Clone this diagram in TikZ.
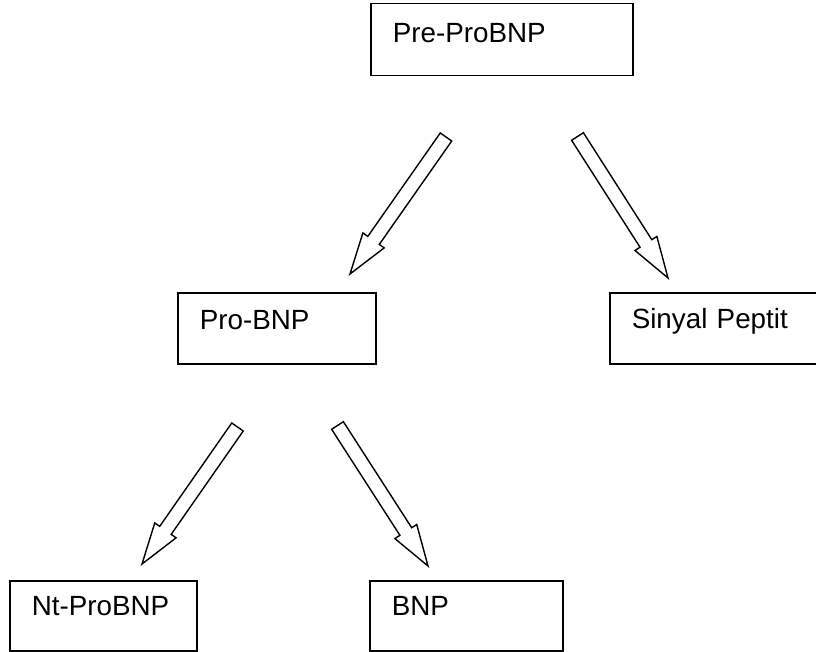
\documentclass[tikz,border=0pt]{standalone}
\usepackage{fontspec}
\setmainfont{Liberation Sans}
\usetikzlibrary{calc}
\tikzset{
  box/.style={draw, line width=1.5pt, anchor=north west, inner xsep=22pt, inner ysep=0pt,
    align=left, font=\fontsize{27.8}{30}\selectfont},
  blockarrow/.style={draw, line width=1.4pt, line join=miter, fill=white}
}
\newcommand{\blockarr}[2]{%
  \coordinate (#1n) at ($(#2)!41pt!(#1)$);
  \draw[blockarrow] ($(#1)!7pt!90:(#2)$) -- ($(#1n)!7pt!90:(#2)$) -- ($(#1n)!13pt!90:(#2)$)
    -- (#2) -- ($(#1n)!13pt!-90:(#2)$) -- ($(#1n)!7pt!-90:(#2)$) -- ($(#1)!7pt!-90:(#2)$) -- cycle;
}
\begin{document}
\begin{tikzpicture}[x=1pt,y=-1pt]
\clip (0,0) rectangle (816,652);
\fill[white] (0,0) rectangle (816,652);
\node[box, text width=218pt, text height=39pt, text depth=33pt] (pre) at (370,3) {Pre-ProBNP};
\node[box, text width=154pt, text height=37pt, text depth=34pt] (pro) at (177,292) {Pro-BNP};
\node[box, text width=176pt, text height=36pt, text depth=35pt] (sig) at (609,292) {Sinyal Peptit};
\node[box, text width=143pt, text height=35pt, text depth=35pt] (nt) at (9,580) {Nt-ProBNP};
\node[box, text width=149pt, text height=35pt, text depth=35pt] (bnp) at (369,580) {BNP};
\coordinate (a1s) at (446,137); \coordinate (a1e) at (350,274);
\coordinate (a2s) at (577.5,136.5); \coordinate (a2e) at (668,278);
\coordinate (a3s) at (237.5,427); \coordinate (a3e) at (142,564);
\coordinate (a4s) at (337.5,425.5); \coordinate (a4e) at (428,566);
\blockarr{a1s}{a1e}
\blockarr{a2s}{a2e}
\blockarr{a3s}{a3e}
\blockarr{a4s}{a4e}
\end{tikzpicture}
\end{document}
